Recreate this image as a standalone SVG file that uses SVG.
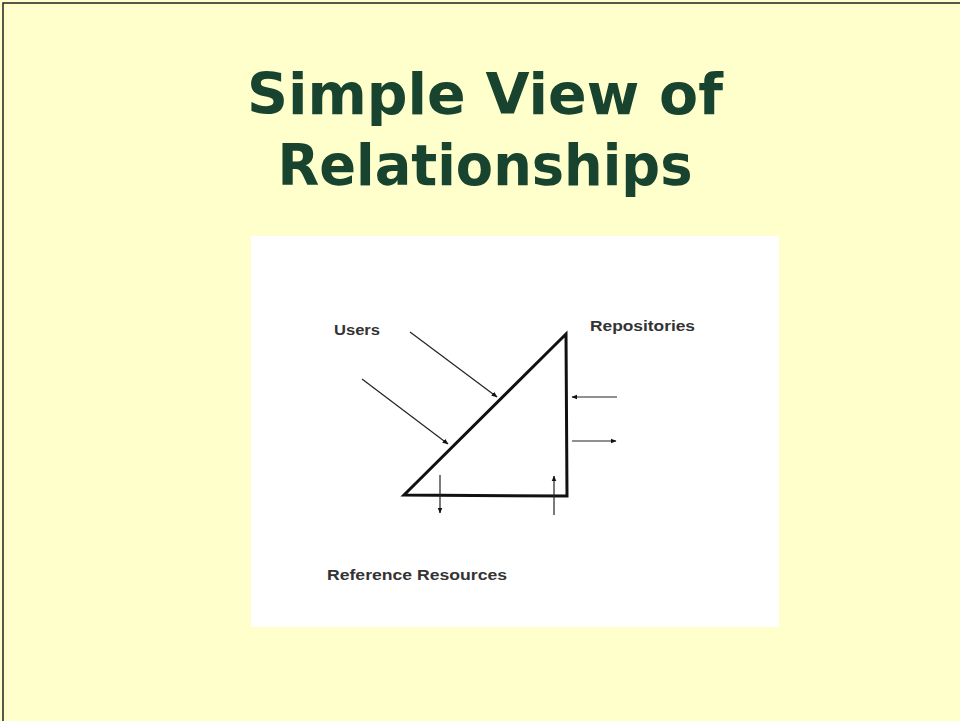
<svg xmlns="http://www.w3.org/2000/svg" width="960" height="721" viewBox="0 0 960 721">
<defs>
<style>
.title{font-family:"DejaVu Sans",Verdana,sans-serif;font-weight:bold;font-size:57px;fill:#17432f;text-anchor:middle}
.lbl{font-family:"Liberation Sans",Arial,sans-serif;font-weight:bold;font-size:14px;fill:#333}
.arr{stroke:#222;stroke-width:1.2;fill:none;marker-end:url(#ah)}
.tri{stroke:#111;stroke-width:3;fill:none;stroke-linejoin:miter}
</style>
<marker id="ah" viewBox="0 0 10 10" refX="9" refY="5" markerWidth="6" markerHeight="6" orient="auto" markerUnits="userSpaceOnUse">
<path d="M0,1 L10,5 L0,9 z" fill="#111"/>
</marker>
</defs>
<rect x="0" y="0" width="960" height="721" fill="#ffffcc"/>
<path d="M3,721 V3 H960" stroke="#222" stroke-width="1.5" fill="none"/>
<g id="title">
<text class="title" x="485" y="114" textLength="476" lengthAdjust="spacingAndGlyphs">Simple View of</text>
<text class="title" x="485" y="185" textLength="415" lengthAdjust="spacingAndGlyphs">Relationships</text>
</g>
<rect x="251" y="236" width="528" height="391" fill="#ffffff"/>
<g id="triangle">
<path class="tri" d="M404,495 L566,334 L567,496 Z"/>
</g>
<g id="users"><text class="lbl" x="334" y="335" textLength="46" lengthAdjust="spacingAndGlyphs">Users</text></g>
<g id="repositories"><text class="lbl" x="590" y="331" textLength="105" lengthAdjust="spacingAndGlyphs">Repositories</text></g>
<g id="reference"><text class="lbl" x="327" y="580" textLength="180" lengthAdjust="spacingAndGlyphs">Reference Resources</text></g>
<g id="connectors">
<line class="arr" x1="410" y1="332" x2="497" y2="397"/>
<line class="arr" x1="362" y1="379" x2="448" y2="444"/>
<line class="arr" x1="617" y1="397" x2="572" y2="397"/>
<line class="arr" x1="572" y1="441" x2="616" y2="441"/>
<line class="arr" x1="440" y1="475" x2="440" y2="513"/>
<line class="arr" x1="554" y1="515" x2="554" y2="476"/>
</g>
</svg>
